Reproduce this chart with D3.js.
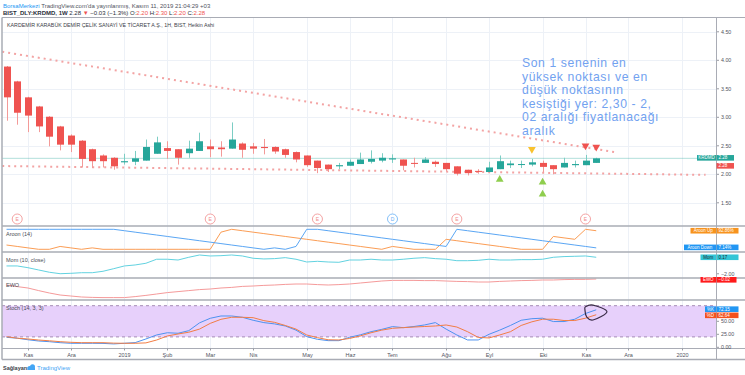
<!DOCTYPE html>
<meta charset="utf-8">
<style>
body { margin: 0; background: #fff; }
svg text { font-family: "Liberation Sans", Arial, sans-serif; }
</style>
<body>
<script src="https://cdn.jsdelivr.net/npm/d3@7/dist/d3.min.js"></script>
<script>

// weekly Heikin Ashi candles, KRDMD (first bar = week of 22 Oct 2018)
var openP  = [3.89,3.63,3.35,3.19,3.01,2.84,2.68,2.59,2.44,2.33, 2.29,2.21,2.22,2.24,2.36,2.46,2.44,2.37,2.41,2.49,
              2.47,2.45,2.54,2.49,2.48,2.48,2.44,2.39,2.33,2.24, 2.17,2.14,2.15,2.18,2.22,2.24,2.26,2.26,2.20,2.20,
              2.22,2.20,2.14,2.08,2.06,2.04,2.09,2.16,2.17,2.17, 2.20,2.16,2.12,2.16,2.16,2.20];
var highP  = [3.90,3.64,3.36,3.20,3.02,2.85,2.70,2.60,2.45,2.35, 2.30,2.36,2.41,2.61,2.66,2.58,2.44,2.59,2.73,2.61,
              2.58,2.91,2.56,2.55,2.62,2.49,2.45,2.40,2.33,2.24, 2.17,2.20,2.26,2.38,2.42,2.37,2.35,2.26,2.29,2.30,
              2.24,2.20,2.14,2.08,2.09,2.22,2.33,2.24,2.24,2.27, 2.24,2.16,2.29,2.24,2.34,2.29];
var lowP   = [2.94,2.87,2.74,2.74,2.49,2.42,2.39,2.12,2.11,2.12, 2.08,2.17,2.16,2.24,2.36,2.27,2.17,2.29,2.41,2.30,
              2.31,2.45,2.29,2.36,2.35,2.36,2.29,2.21,2.13,2.02, 2.04,2.09,2.15,2.18,2.19,2.21,2.20,2.07,2.12,2.20,
              2.13,2.05,1.98,1.98,2.01,2.04,2.09,2.11,2.11,2.14, 2.03,2.00,2.12,2.12,2.16,2.20];
var closeP = [3.35,3.08,3.03,2.84,2.66,2.52,2.52,2.27,2.23,2.23, 2.14,2.23,2.28,2.48,2.56,2.41,2.29,2.45,2.58,2.44,
              2.44,2.61,2.43,2.45,2.46,2.40,2.34,2.26,2.16,2.11, 2.09,2.16,2.22,2.26,2.27,2.29,2.28,2.15,2.19,2.26,
              2.18,2.09,2.01,2.02,2.05,2.12,2.23,2.19,2.18,2.21, 2.13,2.09,2.20,2.18,2.24,2.28];

var aroonUp   = [21.4,14.3,7.1,0,0,14.3,7.1,0,7.1,0, 0,0,0,0,0,0,0,0,0,0,
                 85.7,100,92.9,85.7,78.6,71.4,64.3,57.1,50,42.9, 35.7,28.6,21.4,14.3,7.1,0,14.3,7.1,0,0,
                 0,50,42.9,35.7,28.6,21.4,14.3,7.1,0,0, 0,64.3,57.1,50,100,92.86];
var aroonDown = [100,100,100,100,100,100,100,100,100,100, 100,92.9,85.7,78.6,71.4,64.3,57.1,50,42.9,35.7,
                 28.6,21.4,14.3,7.1,0,7.1,0,14.3,100,100, 92.9,85.7,78.6,71.4,64.3,57.1,50,42.9,35.7,28.6,
                 21.4,14.3,100,92.9,85.7,78.6,71.4,64.3,57.1,50, 42.9,35.7,28.6,21.4,14.3,7.14];
var mom = [-0.97,-0.97,-1.20,-1.50,-1.80,-1.99,-1.94,-1.86,-1.86,-1.67, -1.33,-0.97,-0.84,-0.62,-0.09,-0.09,-0.19,0.17,0.47,0.34,
           0.38,0.47,0.34,0.04,-0.05,-0.01,0.12,-0.09,-0.45,-0.36, -0.45,-0.49,-0.19,-0.19,-0.09,-0.19,-0.19,-0.09,0.04,0.12,
           -0.01,-0.09,-0.28,-0.28,-0.23,-0.09,-0.19,-0.19,-0.14,-0.14, -0.09,0.17,0.26,0.30,0.34,0.17];
var ewo = [-0.32,-0.40,-0.47,-0.60,-0.72,-0.82,-0.87,-0.92,-0.94,-0.95, -0.95,-0.95,-0.90,-0.84,-0.77,-0.70,-0.65,-0.60,-0.55,-0.52,
           -0.47,-0.44,-0.39,-0.37,-0.34,-0.32,-0.29,-0.27,-0.27,-0.30, -0.32,-0.30,-0.27,-0.22,-0.17,-0.12,-0.09,-0.09,-0.09,-0.10,
           -0.10,-0.12,-0.14,-0.15,-0.17,-0.17,-0.14,-0.12,-0.10,-0.09, -0.07,-0.07,-0.05,-0.04,-0.04,-0.02];
var stochK = [19.2,17.5,14.5,12.1,10.8,8.9,7.7,7.7,7.7,7.5, 6.5,7.7,9,16,23.7,28,27,32,47,55.8,
              60.2,60.2,57.7,52,47.5,45,41,33,20.5,15.4, 12.8,12.8,19.2,24,30,34.5,39.8,37.8,40,43,
              47.5,35,23.7,14.1,14.1,25,33,42,52,55, 56,49.5,49.5,54,65,72.15];
var stochD = [20.4,17.5,16,14,12.5,10.8,9.6,8.9,8.9,8.9, 8,7.7,7.7,8.5,14,21.8,25.6,29,35,46,
              53.8,57.7,57.7,57,51.3,48,42,35,23.7,18.6, 14.5,14.1,17,22,28,33,36.5,37.8,39,40,
              41,42.9,39,30,19,18,23.7,30,42,49, 54,54,51.5,51.5,56,62.64];

var monthNames = ["Oca","Şub","Mar","Nis","May","Haz","Tem","Ağu","Eyl","Eki","Kas","Ara"];
var priceTicks = [1.5, 2, 2.5, 3, 3.5, 4, 4.5];
var stochTicks = [0, 25, 50];

// drawings on the chart
var upperTrendBars = [-0.4, 57], upperTrendPrices = [4.15, 2.38];
var lowerTrendBars = [-0.4, 65.2], lowerTrendPrices = [2.145, 1.99];
var yellowBars = [49], yellowPrices = [2.44];
var sellBars = [54, 55], sellPrices = [2.50, 2.48];
var buyBars = [46, 50, 50], buyPrices = [1.91, 1.86, 1.65];
var earningsBars = [1, 19, 29, 42, 54];
var dividendBars = [36];
var loopBars = [54.0, 54.7, 56.0, 54.7, 54.1, 53.95], loopValues = [78, 81, 68.5, 52.5, 58.8, 71.7];
var noteLines = ["Son 1 senenin en", "yüksek noktası ve en", "düşük noktasının",
                 "kesiştiği yer: 2,30 - 2,", "02 aralığı fiyatlanacağı", "aralık"];

var width = 745, height = 375;
var left = 2, axisX = 716;
var up = "#26a69a", down = "#ef5350";

var svg = d3.select("body").append("svg")
  .attr("width", width)
  .attr("height", height);

var weeks = d3.timeMonday.range(new Date(2018, 9, 22), new Date(2020, 0, 13));
var ticks = [];
weeks.forEach(function(d, i){
  if (i > 0 && d.getMonth() != weeks[i-1].getMonth())
    ticks.push({i: i, label: d.getMonth() == 0 ? String(d.getFullYear()) : monthNames[d.getMonth()]});
});

var x = d3.scaleLinear().domain([0, weeks.length - 1]).range([6.5, 682]);
var y = d3.scaleLinear().domain([1.5, 4.5]).range([202.8, 31.8]);
var yAroon = d3.scaleLinear().domain([0, 100]).range([249.3, 229.3]);
var yMom = d3.scaleLinear().domain([-2.2, 0.6]).range([275.3, 254.0]);
var yEwo = d3.scaleLinear().domain([-1, 0]).range([298.6, 278.6]);
var yStoch = d3.scaleLinear().domain([0, 100]).range([347.3, 295.3]);
var bars = d3.range(closeP.length);

// grid
var grid = svg.append("g");
grid.selectAll("line.v").data(ticks).enter().append("line")
  .attr("x1", function(d){return Math.round(x(d.i)) + 0.5;})
  .attr("x2", function(d){return Math.round(x(d.i)) + 0.5;})
  .attr("y1", 18).attr("y2", 348)
  .attr("stroke", "#edf1f7");
grid.selectAll("line.h").data(priceTicks).enter().append("line")
  .attr("x1", left).attr("x2", axisX)
  .attr("y1", function(d){return Math.round(y(d)) + 0.5;})
  .attr("y2", function(d){return Math.round(y(d)) + 0.5;})
  .attr("stroke", "#edf1f7");

// stoch band
svg.append("rect")
  .attr("x", left).attr("width", axisX - left)
  .attr("y", yStoch(80)).attr("height", yStoch(20) - yStoch(80))
  .attr("fill", "#e7d0fb");
[80, 20].forEach(function(v){
  svg.append("line")
    .attr("x1", left).attr("x2", axisX)
    .attr("y1", yStoch(v)).attr("y2", yStoch(v))
    .attr("stroke", "#a58cb5").attr("stroke-dasharray", "3,3");
});

// trend lines (dotted)
function trend(bs, ps){
  svg.append("path")
    .datum(d3.zip(bs, ps))
    .attr("d", d3.line().x(function(d){return x(d[0]);}).y(function(d){return y(d[1]);}))
    .attr("fill", "none")
    .attr("stroke", "#f3a3a3")
    .attr("stroke-width", 2)
    .attr("stroke-dasharray", "2,4");
}
trend(upperTrendBars, upperTrendPrices);
trend(lowerTrendBars, lowerTrendPrices);

// last price line
var last = closeP[closeP.length - 1];
svg.append("line")
  .attr("x1", left).attr("x2", axisX)
  .attr("y1", y(last)).attr("y2", y(last))
  .attr("stroke", up).attr("stroke-opacity", 0.35);

// candles
var cand = svg.append("g").selectAll("g").data(bars).enter().append("g");
cand.append("line")
  .attr("x1", function(i){return Math.round(x(i)) + 0.5;})
  .attr("x2", function(i){return Math.round(x(i)) + 0.5;})
  .attr("y1", function(i){return y(highP[i]);})
  .attr("y2", function(i){return y(lowP[i]);})
  .attr("stroke", function(i){return closeP[i] >= openP[i] ? "#7ccdc4" : "#f39a98";});
cand.append("rect")
  .attr("x", function(i){return Math.round(x(i)) - 3;})
  .attr("width", 7)
  .attr("y", function(i){return y(Math.max(openP[i], closeP[i]));})
  .attr("height", function(i){return Math.max(1, Math.abs(y(openP[i]) - y(closeP[i])));})
  .attr("fill", function(i){return closeP[i] >= openP[i] ? up : down;});

// signal triangles
var tri = d3.symbol().type(d3.symbolTriangle).size(26);
function marks(bs, ps, color, rot){
  svg.append("g").selectAll("path").data(d3.zip(bs, ps)).enter().append("path")
    .attr("d", tri)
    .attr("transform", function(d){return "translate(" + x(d[0]) + "," + y(d[1]) + ") rotate(" + rot + ")";})
    .attr("fill", color);
}
marks(yellowBars, yellowPrices, "#f9c22e", 180);
marks(sellBars, sellPrices, "#ef5350", 180);
marks(buyBars, buyPrices, "#8fce4e", 0);

// earnings / dividends
function events(bs, letter, color){
  var e = svg.append("g").selectAll("g").data(bs).enter().append("g")
    .attr("transform", function(d){return "translate(" + x(d) + ",219)";});
  e.append("circle").attr("r", 5).attr("fill", "#fff").attr("stroke", color).attr("stroke-width", 0.8);
  e.append("text").attr("text-anchor", "middle").attr("dy", "0.35em")
    .attr("font-size", 5).attr("fill", color).text(letter);
}
events(earningsBars, "E", "#f08c8c");
events(dividendBars, "D", "#64aef5");

// note text
svg.append("text")
  .attr("font-size", 12.2)
  .attr("letter-spacing", 0.6)
  .attr("fill", "#72a2f0")
  .selectAll("tspan").data(noteLines).enter().append("tspan")
  .attr("x", 522)
  .attr("y", function(d, i){return 67 + i * 13.6;})
  .text(function(d){return d;});

// indicator lines
function series(vals, sy, color){
  svg.append("path")
    .datum(vals)
    .attr("d", d3.line().x(function(d, i){return x(i);}).y(function(d){return sy(d);}))
    .attr("fill", "none")
    .attr("stroke", color)
    .attr("stroke-width", 1);
}
series(aroonUp, yAroon, "#fb9d55");
series(aroonDown, yAroon, "#5aa6f4");
series(mom, yMom, "#62d2e0");
series(ewo, yEwo, "#f59a9a");
series(stochK, yStoch, "#4d92f0");
series(stochD, yStoch, "#f27d45");

// hand drawn loop
svg.append("path")
  .datum(d3.zip(loopBars, loopValues))
  .attr("d", d3.line().curve(d3.curveCardinalClosed)
    .x(function(d){return x(d[0]);}).y(function(d){return yStoch(d[1]);}))
  .attr("fill", "none")
  .attr("stroke", "#3a2c47")
  .attr("stroke-width", 1.2);

// frame and panes
var frame = svg.append("g").attr("stroke", "#a9acb5");
frame.append("line").attr("x1", left).attr("x2", width).attr("y1", 17.5).attr("y2", 17.5);
frame.append("line").attr("x1", left).attr("x2", left).attr("y1", 17.5).attr("y2", 359.5).attr("stroke-width", 1.5);
[226, 252, 278, 300].forEach(function(v){
  frame.append("line").attr("x1", left).attr("x2", width).attr("y1", v).attr("y2", v).attr("stroke-width", 1.5);
});
frame.append("line").attr("x1", left).attr("x2", width).attr("y1", 348.5).attr("y2", 348.5);
frame.append("line").attr("x1", left).attr("x2", width).attr("y1", 359.5).attr("y2", 359.5).attr("stroke-width", 1.5);
frame.append("line").attr("x1", axisX + 0.5).attr("x2", axisX + 0.5).attr("y1", 17.5).attr("y2", 359.5);

// time axis
var tx = svg.append("g").selectAll("g").data(ticks).enter().append("g")
  .attr("transform", function(d){return "translate(" + (Math.round(x(d.i)) + 0.5) + ",0)";});
tx.append("line").attr("y1", 348.5).attr("y2", 350.5).attr("stroke", "#9a9ca3");
tx.append("text").attr("y", 356.5).attr("text-anchor", "middle")
  .attr("font-size", 5.5).attr("fill", "#50535e")
  .text(function(d){return d.label;});

// price axis
function yTicks(vals, sy, fmt){
  var t = svg.append("g").selectAll("g").data(vals).enter().append("g")
    .attr("transform", function(d){return "translate(" + axisX + "," + sy(d) + ")";});
  t.append("line").attr("x1", 1).attr("x2", 3).attr("stroke", "#9a9ca3");
  t.append("text").attr("x", 5).attr("dy", "0.35em")
    .attr("font-size", 5.3).attr("fill", "#50535e").text(fmt);
}
yTicks(priceTicks, y, d3.format(".2f"));
yTicks([-2], yMom, function(d){return "−2.00";});
yTicks(stochTicks, yStoch, d3.format(".2f"));

// value tags on the axis
function tag(name, value, yc, nameW, valW, fill, ink){
  var g = svg.append("g").attr("transform", "translate(0," + yc + ")");
  if (name) {
    g.append("rect").attr("x", axisX - nameW).attr("y", -2.8).attr("width", nameW).attr("height", 5.6).attr("fill", fill);
    g.append("text").attr("x", axisX - nameW / 2).attr("dy", "0.34em").attr("text-anchor", "middle")
      .attr("font-size", 4.5).attr("fill", ink).text(name);
  }
  g.append("rect").attr("x", axisX + 0.5).attr("y", -2.8).attr("width", valW).attr("height", 5.6).attr("fill", fill);
  g.append("text").attr("x", axisX + 2.5).attr("dy", "0.34em")
    .attr("font-size", 4.5).attr("fill", ink).text(value);
}
tag("KRDMD", "2.28", y(last) - 0.5, 19, 17.5, up, "#fff");
tag(null, "2.28", y(last) + 7.5, 0, 17.5, down, "#fff");
tag("Aroon Up", "92.86%", yAroon(aroonUp[aroonUp.length - 1]), 25.5, 22, "#f7931e", "#fff");
tag("Aroon Down", "7.14%", yAroon(aroonDown[aroonDown.length - 1]) - 0.5, 32, 22, "#2196f3", "#fff");
tag("Mom", "0.17", yMom(mom[mom.length - 1]), 15.5, 22, "#33c5d6", "#1d2b30");
tag("EWO", "−0.02", yEwo(ewo[ewo.length - 1]) + 0.8, 15.5, 20, "#ff1a1a", "#fff");
tag("%K", "72.15", yStoch(stochK[stochK.length - 1]) - 0.6, 11, 22, "#2196f3", "#fff");
tag("%D", "62.64", yStoch(stochD[stochD.length - 1]) + 0.6, 11, 22, "#f4511e", "#fff");

// pane titles
var titles = [["Aroon (14)", 235.5], ["Mom (10, close)", 261.5], ["EWO", 286.5], ["Stoch (14, 3, 3)", 309.5]];
svg.append("g").selectAll("text").data(titles).enter().append("text")
  .attr("x", 6).attr("y", function(d){return d[1];})
  .attr("font-size", 5.5).attr("fill", "#4a4d57")
  .text(function(d){return d[0];});

svg.append("text").attr("x", 7).attr("y", 27)
  .attr("font-size", 5.3).attr("fill", "#3b3e48")
  .text("KARDEMİR KARABÜK DEMİR ÇELİK SANAYİ VE TİCARET A.Ş., 1H, BIST, Heikin Ashi");

// header
var h1 = svg.append("text").attr("x", 3).attr("y", 7.5).attr("font-size", 6).attr("fill", "#50535e");
h1.append("tspan").attr("fill", "#2196f3").text("BorsaMerkezi");
h1.append("tspan").text(" TradingView.com'da yayınlanmış, Kasım 11, 2019 21:04:29 +03");

var h2 = svg.append("text").attr("x", 3).attr("y", 14.8).attr("font-size", 6).attr("fill", "#2a2e39");
h2.append("tspan").attr("font-weight", "bold").text("BIST_DLY:KRDMD, 1W");
h2.append("tspan").text(" 2.28 ");
h2.append("tspan").attr("fill", down).text("▼");
h2.append("tspan").text(" −0.03 (−1.3%) O:");
h2.append("tspan").attr("fill", down).text("2.20");
h2.append("tspan").text(" H:");
h2.append("tspan").attr("fill", down).text("2.30");
h2.append("tspan").text(" L:");
h2.append("tspan").attr("fill", down).text("2.20");
h2.append("tspan").text(" C:");
h2.append("tspan").attr("fill", down).text("2.28");

// footer
svg.append("text").attr("x", 3).attr("y", 369.5)
  .attr("font-size", 5.5).attr("font-weight", "bold").attr("fill", "#3b3e48").text("Sağlayan:");
var logo = svg.append("g").attr("fill", "#42a5f5");
logo.append("circle").attr("cx", 29.5).attr("cy", 368).attr("r", 2);
logo.append("circle").attr("cx", 32.5).attr("cy", 366.8).attr("r", 2.5);
logo.append("rect").attr("x", 27.5).attr("y", 367.5).attr("width", 7.5).attr("height", 2.5);
svg.append("text").attr("x", 37).attr("y", 369.8)
  .attr("font-size", 6).attr("fill", "#42a5f5").text("TradingView");

</script>
</body>
